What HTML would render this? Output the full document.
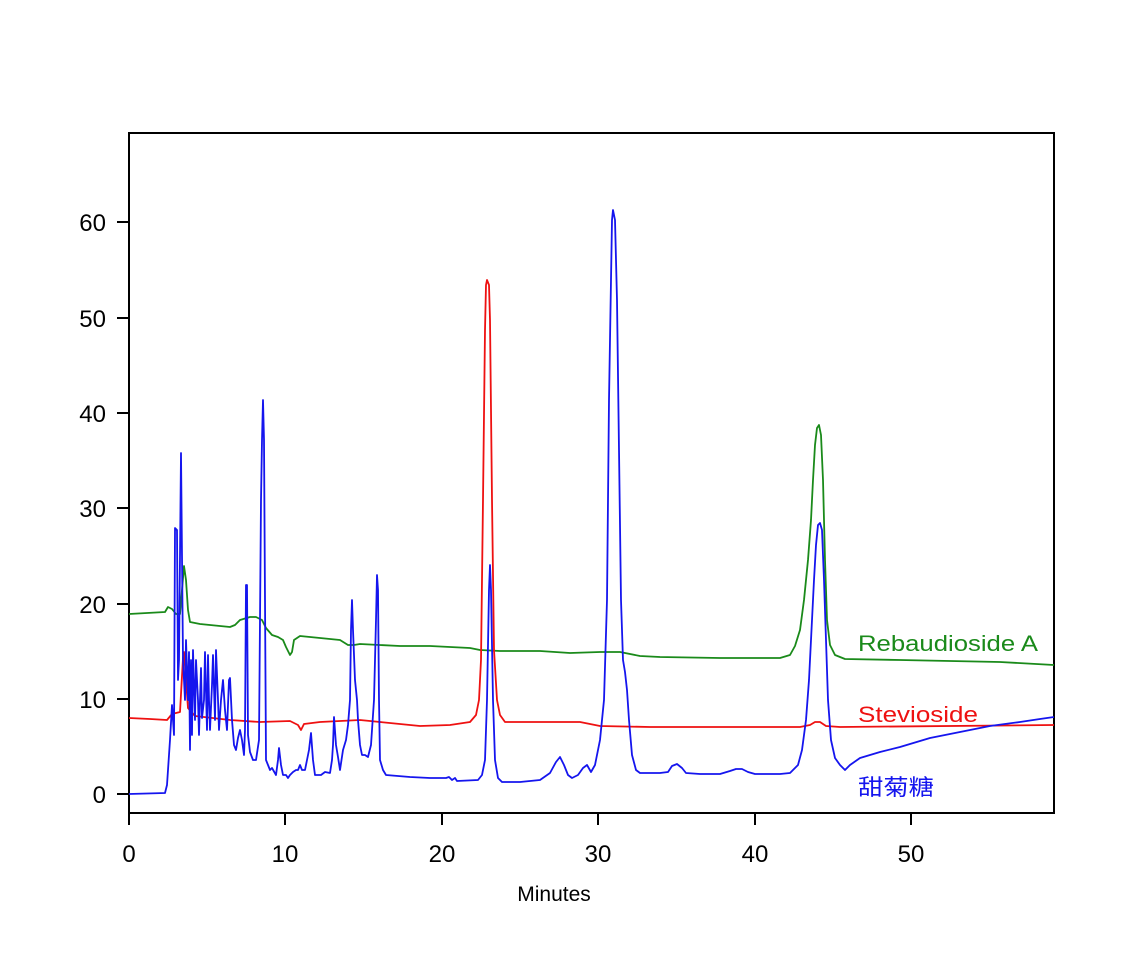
<!DOCTYPE html>
<html><head><style>body{margin:0;background:#fff}svg{display:block}</style></head><body>
<svg width="1124" height="980" xmlns="http://www.w3.org/2000/svg" font-family="Liberation Sans, Noto Sans CJK SC, sans-serif">
<rect x="129" y="133" width="925" height="680" fill="none" stroke="#000" stroke-width="2"/>
<g stroke="#000" stroke-width="2">
<line x1="117" y1="794" x2="129" y2="794"/><line x1="117" y1="699" x2="129" y2="699"/><line x1="117" y1="604" x2="129" y2="604"/><line x1="117" y1="508" x2="129" y2="508"/><line x1="117" y1="413" x2="129" y2="413"/><line x1="117" y1="318" x2="129" y2="318"/><line x1="117" y1="222" x2="129" y2="222"/>
<line x1="129" y1="813" x2="129" y2="825"/><line x1="285" y1="813" x2="285" y2="825"/><line x1="442" y1="813" x2="442" y2="825"/><line x1="598" y1="813" x2="598" y2="825"/><line x1="755" y1="813" x2="755" y2="825"/><line x1="911" y1="813" x2="911" y2="825"/>
</g>
<g font-size="24" text-anchor="end">
<text x="106" y="803">0</text><text x="106" y="708">10</text><text x="106" y="613">20</text><text x="106" y="517">30</text><text x="106" y="422">40</text><text x="106" y="327">50</text><text x="106" y="231">60</text>
</g>
<g font-size="24" text-anchor="middle">
<text x="129" y="862">0</text><text x="285" y="862">10</text><text x="442" y="862">20</text><text x="598" y="862">30</text><text x="755" y="862">40</text><text x="911" y="862">50</text>
</g>
<text x="554" y="901" font-size="21" text-anchor="middle">Minutes</text>
<g fill="none" stroke-width="1.8" stroke-linejoin="round">
<polyline stroke="#1a8a1a" points="129,614 165,612 168,607 172,609 176,614 180,614 182,590 184,566 186,580 188,610 190,622 200,624 230,627 235,625 240,620 250,617 256,617 262,620 266,628 272,635 278,637 283,640 286,647 290,655 292,652 294,640 300,636 340,640 348,645 354,645 360,644 400,646 430,646 470,648 480,650 500,651 540,651 570,653 600,652 620,652 640,656 660,657 720,658 740,658 760,658 780,658 790,655 795,646 800,630 804,600 808,560 811,520 813,480 815,445 817,428 819,425 821,435 823,480 825,560 827,620 830,645 835,655 845,659 900,660 1000,662 1054,665"/>
<polyline stroke="#ee1111" points="129,718 150,719 167,720 172,714 180,712 183,658 184,652 186,680 188,708 195,716 230,720 260,722 290,721 298,725 301,730 304,724 320,722 360,720 380,722 420,726 450,725 470,722 476,715 479,700 481,660 483,500 485,330 486,285 487,280 489,285 490,320 492,500 494,650 497,700 500,715 505,722 520,722 580,722 600,726 650,727 700,727 780,727 800,727 810,725 815,722 820,722 826,726 840,727 1054,725"/>
<polyline stroke="#1515ee" points="129,794 165,793 167,785 170,740 172,705 174,735 175,528 177,530 178,680 179,660 181,453 183,660 185,700 186,640 188,700 189,652 190,750 191,660 192,735 193,650 195,720 196,660 198,700 199,735 200,700 201,668 202,718 204,700 205,652 207,730 208,655 209,700 210,730 212,685 213,655 215,720 216,650 218,700 219,730 221,700 223,680 225,710 227,730 229,680 230,678 232,720 234,745 236,750 238,738 240,730 242,740 244,755 245,730 246,585 247,585 248,735 250,752 253,760 256,760 259,740 261,500 262,440 263,400 264,440 265,600 266,760 268,765 270,770 272,768 276,775 278,760 279,748 281,765 283,775 286,775 288,778 290,775 293,772 296,770 298,770 300,765 302,770 305,770 307,760 309,750 311,733 313,760 315,775 318,775 321,775 325,772 330,773 332,760 333,745 334,717 336,745 338,757 340,770 343,750 346,740 348,725 350,700 351,630 352,600 353,630 355,680 357,700 358,720 360,745 362,755 365,755 368,757 371,745 374,700 376,620 377,575 378,590 379,700 380,760 383,770 386,775 410,777 430,778 446,778 449,777 452,780 455,778 457,781 478,780 482,775 485,760 487,700 489,590 490,565 491,590 493,700 495,760 498,778 502,782 520,782 540,780 550,773 556,762 560,757 564,765 568,775 572,778 578,775 583,768 587,765 591,772 595,765 600,740 604,700 607,600 609,400 611,280 612,220 613,210 615,220 617,300 619,450 621,600 623,660 625,672 627,690 629,720 632,755 636,770 640,773 660,773 668,772 672,766 677,764 682,768 686,773 700,774 720,774 730,771 736,769 742,769 748,772 755,774 780,774 790,773 798,765 802,750 806,720 809,680 812,620 814,580 816,545 818,525 820,523 822,530 824,580 826,640 828,700 831,740 835,758 840,765 845,770 850,765 860,758 880,752 900,747 930,738 960,732 990,726 1020,722 1040,719 1054,717"/>
</g>
<g font-size="22">
<text x="858" y="651" fill="#1a8a1a" textLength="180" lengthAdjust="spacingAndGlyphs">Rebaudioside A</text>
<text x="858" y="722" fill="#ee1111" textLength="120" lengthAdjust="spacingAndGlyphs">Stevioside</text>
<text x="858" y="795" fill="#1515ee" textLength="76" lengthAdjust="spacingAndGlyphs">甜菊糖</text>
</g>
</svg>
</body></html>
